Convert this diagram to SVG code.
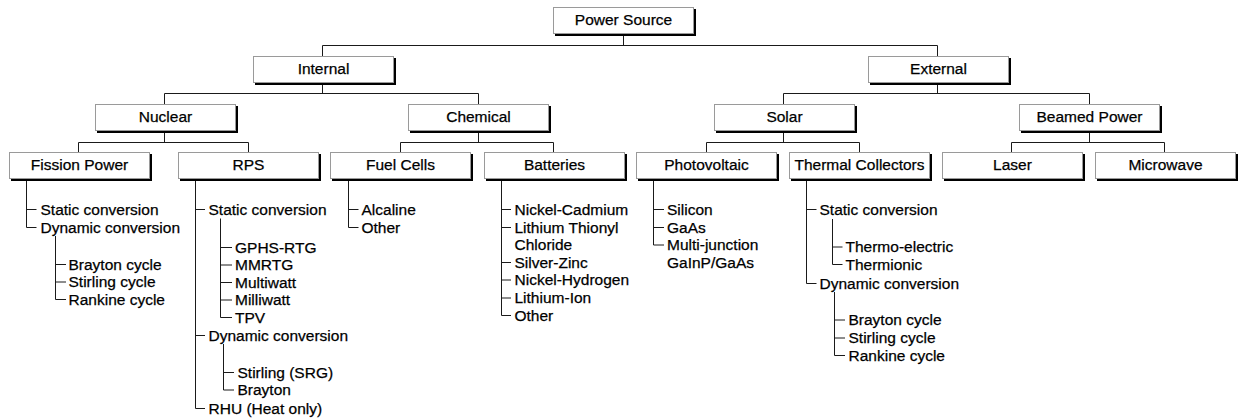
<svg xmlns="http://www.w3.org/2000/svg" width="1239" height="419" viewBox="0 0 1239 419">
<style>
text{font-family:"Liberation Sans",Arial,sans-serif;font-size:15.5px;fill:#000;stroke:#000;stroke-width:0.25px}
.lbl{text-anchor:middle}
.sh{fill:#000}
.bx{fill:#fff;stroke:#9a9a9a;stroke-width:1}
.cn path{fill:none;stroke:#1a1a1a;stroke-width:1}
</style>
<rect width="1239" height="419" fill="#fff"/>
<g class="cn" id="connectors">
<path d="M623.5 34V45.5M322.5 45.5H937.5M322.5 45.5V56M937.5 45.5V56"/>
<path d="M322.5 83V93.5M164.5 93.5H478.5M164.5 93.5V104M478.5 93.5V104"/>
<path d="M937.5 83V93.5M783.5 93.5H1089.5M783.5 93.5V104M1089.5 93.5V104"/>
<path d="M164.5 131V142.5M78.5 142.5H248.5M78.5 142.5V152M248.5 142.5V152"/>
<path d="M478.5 131V142.5M400.5 142.5H553.5M400.5 142.5V152M553.5 142.5V152"/>
<path d="M783.5 131V142.5M706.5 142.5H859.5M706.5 142.5V152M859.5 142.5V152"/>
<path d="M1089.5 131V142.5M1011.5 142.5H1164.5M1011.5 142.5V152M1164.5 142.5V152"/>
<!-- Fission list -->
<path d="M26.5 180V227.5H36.5M26.5 209.5H36.5"/>
<path d="M55.5 236V299.5H66M55.5 264.5H66M55.5 282H66"/>
<!-- RPS list -->
<path d="M195.5 180V408.5H205M195.5 209.5H205M195.5 335.5H205"/>
<path d="M220.5 218.5V317.5H232M220.5 247.5H232M220.5 265H232M220.5 282.5H232M220.5 300H232"/>
<path d="M223.5 344V390H234M223.5 372.5H234"/>
<!-- Fuel cells -->
<path d="M348.5 180V227.5H358.5M348.5 209.5H358.5"/>
<!-- Batteries -->
<path d="M501.5 180V315.5H511M501.5 209.5H511M501.5 227.5H511M501.5 262.5H511M501.5 280H511M501.5 298H511"/>
<!-- Photovoltaic -->
<path d="M653.5 180V245H664M653.5 209.5H664M653.5 227.5H664"/>
<!-- Thermal -->
<path d="M806.5 180V283.5H816.5M806.5 209.5H816.5"/>
<path d="M832.5 219V264.5H842.5M832.5 247H842.5"/>
<path d="M834.5 292V355.5H845M834.5 320H845M834.5 338H845"/>
</g>
<g id="n-power-source"><rect class="sh" x="555" y="9" width="141" height="27"/><rect class="bx" x="553.5" y="7.5" width="140" height="26"/><text class="lbl" x="623.5" y="25">Power Source</text></g>
<g id="n-internal"><rect class="sh" x="255" y="58" width="141" height="27"/><rect class="bx" x="253.5" y="56.5" width="140" height="26"/><text class="lbl" x="323.5" y="74">Internal</text></g>
<g id="n-external"><rect class="sh" x="870" y="58" width="141" height="27"/><rect class="bx" x="868.5" y="56.5" width="140" height="26"/><text class="lbl" x="938.5" y="74">External</text></g>
<g id="n-nuclear"><rect class="sh" x="97" y="106" width="141" height="27"/><rect class="bx" x="95.5" y="104.5" width="140" height="26"/><text class="lbl" x="165.5" y="122">Nuclear</text></g>
<g id="n-chemical"><rect class="sh" x="410" y="106" width="141" height="27"/><rect class="bx" x="408.5" y="104.5" width="140" height="26"/><text class="lbl" x="478.5" y="122">Chemical</text></g>
<g id="n-solar"><rect class="sh" x="716" y="106" width="141" height="27"/><rect class="bx" x="714.5" y="104.5" width="140" height="26"/><text class="lbl" x="784.5" y="122">Solar</text></g>
<g id="n-beamed"><rect class="sh" x="1021" y="106" width="141" height="27"/><rect class="bx" x="1019.5" y="104.5" width="140" height="26"/><text class="lbl" x="1089.5" y="122">Beamed Power</text></g>
<g id="n-fission"><rect class="sh" x="11" y="154" width="141" height="27"/><rect class="bx" x="9.5" y="152.5" width="140" height="26"/><text class="lbl" x="79.5" y="170">Fission Power</text></g>
<g id="n-rps"><rect class="sh" x="180" y="154" width="141" height="27"/><rect class="bx" x="178.5" y="152.5" width="140" height="26"/><text class="lbl" x="248.5" y="170">RPS</text></g>
<g id="n-fuelcells"><rect class="sh" x="332" y="154" width="141" height="27"/><rect class="bx" x="330.5" y="152.5" width="140" height="26"/><text class="lbl" x="400.5" y="170">Fuel Cells</text></g>
<g id="n-batteries"><rect class="sh" x="486" y="154" width="141" height="27"/><rect class="bx" x="484.5" y="152.5" width="140" height="26"/><text class="lbl" x="554.5" y="170">Batteries</text></g>
<g id="n-photovoltaic"><rect class="sh" x="638" y="154" width="141" height="27"/><rect class="bx" x="636.5" y="152.5" width="140" height="26"/><text class="lbl" x="706.5" y="170">Photovoltaic</text></g>
<g id="n-thermal"><rect class="sh" x="791" y="154" width="141" height="27"/><rect class="bx" x="789.5" y="152.5" width="140" height="26"/><text class="lbl" x="859.5" y="170">Thermal Collectors</text></g>
<g id="n-laser"><rect class="sh" x="944" y="154" width="141" height="27"/><rect class="bx" x="942.5" y="152.5" width="140" height="26"/><text class="lbl" x="1012.5" y="170">Laser</text></g>
<g id="n-microwave"><rect class="sh" x="1097" y="154" width="141" height="27"/><rect class="bx" x="1095.5" y="152.5" width="140" height="26"/><text class="lbl" x="1165.5" y="170">Microwave</text></g>
<g id="list-fission">
<text x="40.5" y="214.5">Static conversion</text>
<text x="40.5" y="232.5">Dynamic conversion</text>
<text x="68.5" y="269.5">Brayton cycle</text>
<text x="68.5" y="287">Stirling cycle</text>
<text x="68.5" y="304.5">Rankine cycle</text>
</g>
<g id="list-rps">
<text x="208.5" y="214.5">Static conversion</text>
<text x="235" y="252.5">GPHS-RTG</text>
<text x="235" y="270">MMRTG</text>
<text x="235" y="287.5">Multiwatt</text>
<text x="235" y="305">Milliwatt</text>
<text x="235" y="322.5">TPV</text>
<text x="208.5" y="340.5">Dynamic conversion</text>
<text x="237.5" y="377.5">Stirling (SRG)</text>
<text x="237.5" y="395">Brayton</text>
<text x="208.5" y="413.5">RHU (Heat only)</text>
</g>
<g id="list-fuelcells">
<text x="361.5" y="214.5">Alcaline</text>
<text x="361.5" y="232.5">Other</text>
</g>
<g id="list-batteries">
<text x="514.5" y="214.5">Nickel-Cadmium</text>
<text x="514.5" y="232.5">Lithium Thionyl</text>
<text x="514.5" y="250">Chloride</text>
<text x="514.5" y="267.5">Silver-Zinc</text>
<text x="514.5" y="285">Nickel-Hydrogen</text>
<text x="514.5" y="303">Lithium-Ion</text>
<text x="514.5" y="320.5">Other</text>
</g>
<g id="list-photovoltaic">
<text x="667" y="214.5">Silicon</text>
<text x="667" y="232.5">GaAs</text>
<text x="667" y="250">Multi-junction</text>
<text x="667" y="267.5">GaInP/GaAs</text>
</g>
<g id="list-thermal">
<text x="819.5" y="214.5">Static conversion</text>
<text x="845.5" y="252">Thermo-electric</text>
<text x="845.5" y="269.5">Thermionic</text>
<text x="819.5" y="288.5">Dynamic conversion</text>
<text x="848.5" y="325">Brayton cycle</text>
<text x="848.5" y="343">Stirling cycle</text>
<text x="848.5" y="360.5">Rankine cycle</text>
</g>
</svg>
